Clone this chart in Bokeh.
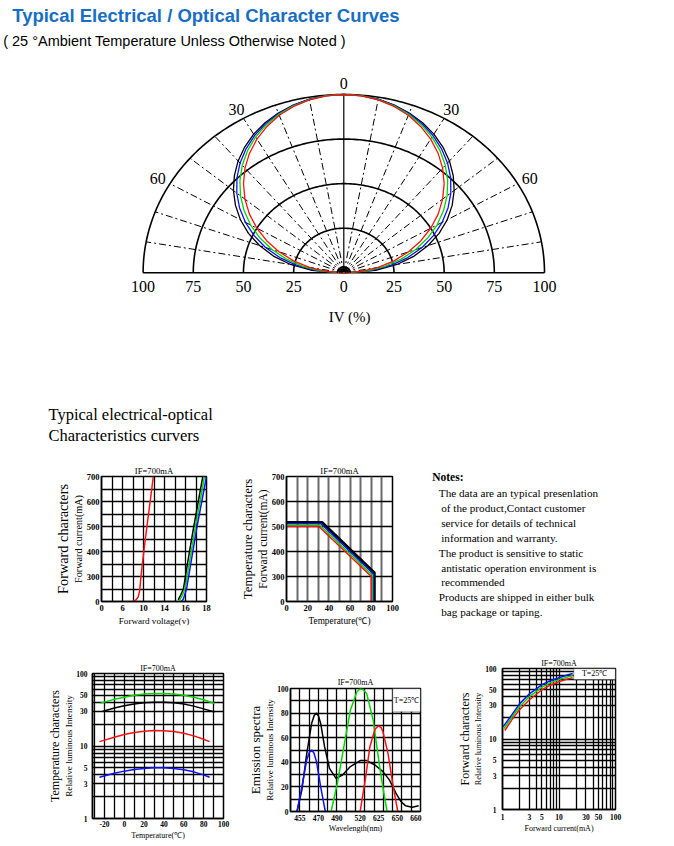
import numpy as np
from bokeh.plotting import figure
from bokeh.models import Range1d, FixedTicker, Label, BoxAnnotation, Title
from bokeh.layouts import column, row
from bokeh.embed import file_html
from bokeh.resources import INLINE

SERIF = "Liberation Serif"
SANS = "Liberation Sans"
RED, GREEN, BLUE, BLACK = "#ff1010", "#00d800", "#1010ff", "#000000"

# ---------------- data ----------------
# Radiation pattern: relative intensity IV (%) vs off-axis angle (deg)
pol_angles = [0, 5, 10, 15, 20, 25, 30, 35, 40, 45, 50, 55, 60, 65, 70, 75, 80, 85, 90]
pol_black = [100, 99.7, 98.9, 97.4, 95.4, 92.9, 89.8, 86.1, 81.9, 77.1, 71.8, 65.9, 59.5, 52.4, 44.7, 36.3, 26.9, 16.0, 0]
pol_blue = [100, 99.7, 98.8, 97.2, 95.0, 92.2, 88.9, 84.9, 80.4, 75.3, 69.6, 63.4, 56.6, 49.3, 41.5, 33.0, 23.8, 13.5, 0]
pol_green = [100, 99.7, 98.6, 96.9, 94.6, 91.5, 87.9, 83.6, 78.7, 73.2, 67.2, 60.6, 53.6, 46.1, 38.1, 29.6, 20.7, 11.1, 0]
pol_red = [100, 99.6, 98.5, 96.6, 94.0, 90.6, 86.6, 81.9, 76.6, 70.7, 64.3, 57.4, 50.0, 42.3, 34.2, 25.9, 17.4, 8.7, 0]
pol_rings = [25, 50, 75, 100]
pol_spokes = [-80, -70, -60, -50, -40, -30, -20, -10, 10, 20, 30, 40, 50, 60, 70, 80]
pol_scale_vals = [-100, -75, -50, -25, 0, 25, 50, 75, 100]
pol_scale_labels = ["100", "75", "50", "25", "0", "25", "50", "75", "100"]
pol_angle_marks = [-60, -30, 0, 30, 60]
pol_angle_labels = ["60", "30", "0", "30", "60"]

# Forward characters: forward voltage (V) vs forward current (mA)
fv_ticks = [0, 6, 10, 14, 16, 18]
fi_ticks = [0, 300, 400, 500, 600, 700]
fv_red_v = [7.9, 8.5, 8.95, 9.25, 9.52, 10.06, 10.65, 11.27, 11.87]
fv_red_i = [0, 15, 50, 120, 300, 400, 500, 600, 700]
fv_black_v = [15.3, 15.55, 15.8, 15.99, 16.38, 16.79, 17.22, 17.65]
fv_black_i = [20, 80, 150, 300, 400, 500, 600, 700]
fv_green_v = [15.4, 15.65, 15.95, 16.15, 16.55, 16.95, 17.38, 17.8]
fv_green_i = [10, 60, 150, 300, 400, 500, 600, 700]
fv_blue_v = [15.6, 15.8, 16.1, 16.3, 16.7, 17.1, 17.55, 18.0]
fv_blue_i = [0, 30, 150, 300, 400, 500, 600, 700]

# Temperature characters: temperature (C) vs forward current (mA)
tc_t_ticks = [0, 20, 40, 60, 80, 100]
tc_i_ticks = [0, 300, 400, 500, 600, 700]
tc_red_t, tc_red_i = [0, 30.5, 80, 80], [500, 500, 300, 0]
tc_green_t, tc_green_i = [0, 31.5, 81, 81], [505, 505, 305, 0]
tc_blue_t, tc_blue_i = [0, 32.5, 82, 82], [511, 511, 310, 0]
tc_black_t, tc_black_i = [0, 33.5, 83, 83], [517, 517, 315, 0]

# Temperature characters: temperature (C) vs relative luminous intensity
rt_t_ticks = [-20, 0, 20, 40, 60, 80, 100]
rt_i_ticks = [1, 3, 5, 10, 30, 50, 100]
rt_green_t = [-24, -10, 0, 10, 20, 30, 40, 50, 60, 70, 80, 91]
rt_green = [39, 44, 47, 50, 52, 53, 53, 52, 50, 47, 43.5, 38.5]
rt_black_t = [-22, -10, 0, 10, 20, 30, 40, 50, 60, 70, 80, 91]
rt_black = [30, 33.5, 36, 38, 39.5, 40, 40, 39.5, 38, 35.5, 32.5, 29.5]
rt_red_t = [-25, -10, 0, 10, 20, 30, 40, 50, 60, 70, 80, 86]
rt_red = [11.5, 13.2, 14.4, 15.4, 16, 16.3, 16.2, 15.8, 15, 13.8, 12.4, 11.5]
rt_blue_t = [-25, -10, 0, 10, 20, 30, 40, 50, 60, 70, 80, 86]
rt_blue = [3.7, 4.2, 4.5, 4.75, 4.9, 5.0, 5.0, 4.9, 4.7, 4.4, 4.0, 3.7]

# Emission spectra: wavelength axis position vs relative intensity
sp_tick_pos = [2, 6, 10, 15, 19, 23, 27]
sp_tick_labels = ["455", "470", "490", "520", "625", "650", "660"]
sp_i_ticks = [0, 20, 40, 60, 80, 100]
sp_blue_x = [1.4, 2.45, 3.5, 4.05, 4.55, 5.05, 5.6, 6.5, 7.5]
sp_blue = [0, 20, 42, 48, 50, 47.5, 40.5, 20, 0]
sp_black_x = [1.4, 2.45, 3.5, 4.55, 5.1, 5.6, 6.05, 6.5, 7.34, 8.4, 9.8, 11.2, 12.9, 15, 16.4, 18.2, 19.9, 21.3, 22.7, 23.8, 24.8, 26.2, 27.6]
sp_black = [0, 17.6, 47, 71.6, 78, 80, 77.5, 71.6, 52.7, 35, 27, 29.7, 36.5, 41.4, 41.4, 37.8, 32.4, 25.7, 14.9, 8.1, 4.6, 3.5, 4.6]
sp_green_x = [8.74, 10.1, 11.5, 12.9, 14.3, 15.0, 15.6, 16.4, 17.8, 19.2, 20.1, 20.8]
sp_green = [0, 23, 52.7, 82.4, 97.3, 99.8, 99.2, 96, 74.3, 36.5, 14.9, 0]
sp_red_x = [15, 16.1, 17.1, 18.2, 18.9, 19.5, 19.9, 21, 22, 23.1]
sp_red = [0, 25.7, 52.7, 66.8, 69.5, 68.5, 64.9, 47.3, 23, 0]

# Forward characters: forward current (mA) vs relative luminous intensity
fr_ticks = [1, 3, 5, 10, 30, 50, 100]
fr_blue_x = [1.03, 1.5, 2, 3, 5, 7, 10, 14, 17.5]
fr_blue = [15, 22.7, 31.5, 43.8, 59, 67, 74, 81, 85]
fr_green_x = [1.06, 1.5, 2, 3, 5, 7, 10, 14, 17.5]
fr_green = [14, 21, 28.7, 40, 54.5, 62.5, 69.5, 76, 79.5]
fr_red_x = [1.1, 1.5, 2, 3, 5, 7, 10, 14, 17.5]
fr_red = [13.2, 19.3, 26, 36, 50, 58, 65, 71, 74]

log_grid = [1, 2, 3, 4, 5, 6, 7, 8, 9, 10, 20, 30, 40, 50, 60, 70, 80, 90, 100]

note_lines = [
    "The data are an typical presenlation",
    "of the product,Contact customer",
    "service for details of technical",
    "information and warranty.",
    "The product is sensitive to static",
    "antistatic operation environment is",
    "recommended",
    "Products are shipped in either bulk",
    "bag package or taping.",
]
note_indent = [0, 1, 1, 1, 0, 1, 1, 0, 1]


# ---------------- helpers ----------------
def dlabel(p, x, y, text, size, font=SERIF, style="normal", align="center",
           baseline="middle", color="black"):
    p.add_layout(Label(x=x, y=y, text=text, text_font_size=f"{size}px", text_font=font,
                       text_font_style=style, text_align=align, text_baseline=baseline,
                       text_color=color))


def make_chart(g, xr, yr, x_log=False, y_log=False):
    p = figure(width=g["w"], height=g["h"], x_range=xr, y_range=yr,
               x_axis_type="log" if x_log else "linear",
               y_axis_type="log" if y_log else "linear",
               output_backend="svg", toolbar_location=None,
               min_border_left=g["bl"], min_border_right=g["w"] - g["bl"] - g["fw"],
               min_border_top=g["bt"], min_border_bottom=g["h"] - g["bt"] - g["fh"])
    p.frame_align = False
    p.background_fill_color = "white"
    p.border_fill_color = "white"
    p.outline_line_color = "black"
    p.outline_line_width = 1.5
    return p


def style_axis(ax, ticks, labels, size, standoff):
    ax.ticker = FixedTicker(ticks=ticks)
    ax.major_label_overrides = {t: l for t, l in zip(ticks, labels)}
    ax.major_tick_line_color = None
    ax.minor_tick_line_color = None
    ax.major_tick_out = 0
    ax.major_tick_in = 0
    ax.minor_tick_out = 0
    ax.minor_tick_in = 0
    ax.axis_line_color = "black"
    ax.axis_line_width = 1.5
    ax.major_label_text_font = SERIF
    ax.major_label_text_font_style = "bold"
    ax.major_label_text_font_size = f"{size}px"
    ax.major_label_text_color = "black"
    ax.major_label_standoff = standoff


def style_grid(grid, ticks, color="black", width=1.3):
    grid.ticker = FixedTicker(ticks=ticks)
    grid.grid_line_color = color
    grid.grid_line_width = width
    grid.minor_grid_line_color = None


def titles(p, top_text, top_size, top_off, top_stand,
           big, big_size, big_off, small, small_size, small_off,
           xlab, xlab_size, xlab_off, xlab_stand):
    p.title.text = top_text
    p.title.align = "center"
    p.title.offset = top_off
    p.title.standoff = top_stand
    p.title.text_font = SERIF
    p.title.text_font_style = "normal"
    p.title.text_font_size = f"{top_size}px"
    p.title.text_color = "black"
    p.add_layout(Title(text=small, align="center", offset=small_off, standoff=0,
                       text_font=SERIF, text_font_style="normal",
                       text_font_size=f"{small_size}px", text_color="black"), "left")
    p.add_layout(Title(text=big, align="center", offset=big_off, standoff=0,
                       text_font=SERIF, text_font_style="normal",
                       text_font_size=f"{big_size}px", text_color="black"), "left")
    p.add_layout(Title(text=xlab, align="center", offset=xlab_off, standoff=xlab_stand,
                       vertical_align="top", text_font=SERIF, text_font_style="normal",
                       text_font_size=f"{xlab_size}px", text_color="black"), "below")


# ---------------- top: headers + polar ----------------
SXC, SYC, KX, KY = 343.3, 272.3, 2.007, 1.783
top = figure(width=674, height=448, x_range=Range1d(-SXC / KX, (674 - SXC) / KX),
             y_range=Range1d((SYC - 448) / KY, SYC / KY), output_backend="svg",
             toolbar_location=None, x_axis_location=None, y_axis_location=None,
             min_border=0)
top.frame_align = False
top.grid.visible = False
top.outline_line_color = None
top.background_fill_color = "white"
top.border_fill_color = "white"


def txy(sx, sy):
    return (sx - SXC) / KX, (SYC - sy) / KY


t = np.linspace(0, np.pi, 181)
for r in pol_rings:
    top.line(r * np.cos(t), r * np.sin(t), color="black", line_width=1.6)
top.line([pol_scale_vals[0], pol_scale_vals[-1]], [0, 0], color="black", line_width=1.5)
sp = np.radians(pol_spokes)
top.segment(x0=0, y0=0, x1=100 * np.sin(sp), y1=100 * np.cos(sp), color="black",
            line_width=1, line_dash="7 3 2 3")
top.line([0, 0], [0, 100], color="black", line_width=1.2)

ang = np.radians(pol_angles)
th = np.concatenate([-ang[::-1], ang[1:]])
for vals, col in [(pol_black, BLACK), (pol_blue, BLUE), (pol_green, GREEN), (pol_red, RED)]:
    rv = np.asarray(vals, float)
    rr = np.concatenate([rv[::-1], rv[1:]])
    top.line(rr * np.sin(th), rr * np.cos(th), color=col, line_width=1.3)
for r in [1.0, 2.0, 3.2]:
    top.line(r * np.cos(t), r * np.sin(t), color="black", line_width=1.6)

for xv, lab in zip(pol_scale_vals, pol_scale_labels):
    dlabel(top, xv, -7.7, lab, 16)
for a, lab in zip(pol_angle_marks, pol_angle_labels):
    ar = np.radians(a)
    dlabel(top, 107 * np.sin(ar), 106 * np.cos(ar), lab, 16)
dlabel(top, *txy(349.3, 316.7), "IV (%)", 15)

dlabel(top, *txy(11.7, 15.2), "Typical Electrical / Optical Character Curves", 18.5,
       font=SANS, style="bold", align="left", color="#176ec6")
dlabel(top, *txy(2.7, 40.2), "( 25 \u00b0Ambient Temperature Unless Otherwise Noted )", 14.5,
       font=SANS, align="left")
dlabel(top, *txy(48, 413.5), "Typical electrical-optical", 16.5, align="left")
dlabel(top, *txy(48, 434.5), "Characteristics curvers", 16.5, align="left")

# ---------------- M1: forward voltage ----------------
g1 = dict(w=226, h=192, bl=101, bt=28, fw=105, fh=125)
m1 = make_chart(g1, Range1d(0, 10), Range1d(0, 10))
grid_pos = list(range(11))
vpos = lambda v: np.interp(v, fv_ticks, grid_pos[::2])
ipos = lambda i: np.interp(i, fi_ticks, grid_pos[::2])
style_axis(m1.xaxis, grid_pos[::2], [str(v) for v in fv_ticks], 8.5, 3)
style_axis(m1.yaxis, grid_pos[::2], [str(v) for v in fi_ticks], 8.5, 2)
style_grid(m1.xgrid, grid_pos)
style_grid(m1.ygrid, grid_pos)
for xs, ys, col in [(fv_red_v, fv_red_i, RED), (fv_black_v, fv_black_i, BLACK),
                    (fv_green_v, fv_green_i, GREEN), (fv_blue_v, fv_blue_i, BLUE)]:
    m1.line(vpos(xs), ipos(ys), color=col, line_width=1.5)
titles(m1, "IF=700mA", 8.6, 7, 2, "Forward characters", 14.3, -2, "Forward current(mA)",
       10.2, -4, "Forward voltage(v)", 9.1, -1.5, 4)

# ---------------- M2: temperature vs current ----------------
g2 = dict(w=194, h=192, bl=60, bt=28, fw=106, fh=125)
m2 = make_chart(g2, Range1d(0, 100), Range1d(0, 5))
cpos = lambda i: np.interp(i, tc_i_ticks, [0, 1, 2, 3, 4, 5])
style_axis(m2.xaxis, tc_t_ticks, [str(v) for v in tc_t_ticks], 8.5, 3)
style_axis(m2.yaxis, [0, 1, 2, 3, 4, 5], [str(v) for v in tc_i_ticks], 8.5, 2)
style_grid(m2.xgrid, list(range(0, 101, 10)), color="#6a6a6a", width=2)
style_grid(m2.ygrid, [0, 1, 2, 3, 4, 5])
for xs, ys, col, lw in [(tc_black_t, tc_black_i, BLACK, 2.6), (tc_blue_t, tc_blue_i, BLUE, 1.5),
                        (tc_green_t, tc_green_i, GREEN, 1.5), (tc_red_t, tc_red_i, RED, 1.5)]:
    m2.line(xs, cpos(ys), color=col, line_width=lw)
titles(m2, "IF=700mA", 8.6, 3, 2, "Temperature characters", 12.9, -0.5, "Forward current(mA)",
       11.5, -6, "Temperature(\u2103)", 9.3, -2, 4)

# ---------------- Notes ----------------
notes = figure(width=254, height=192, x_range=Range1d(0, 254), y_range=Range1d(192, 0),
               output_backend="svg", toolbar_location=None, x_axis_location=None,
               y_axis_location=None, min_border=0)
notes.frame_align = False
notes.grid.visible = False
notes.outline_line_color = None
dlabel(notes, 431.7 - 420, 476 - 448, "Notes:", 11.5, style="bold", align="left")
for i, (line, ind) in enumerate(zip(note_lines, note_indent)):
    dlabel(notes, 438.3 + 2.4 * ind - 420, 492.7 + 14.87 * i - 448, line, 11.2, align="left")

# ---------------- B1: temperature vs relative intensity ----------------
gb1 = dict(w=245, h=205, bl=92, bt=33, fw=131, fh=145)
b1 = make_chart(gb1, Range1d(-32, 100), Range1d(1, 100), y_log=True)
style_axis(b1.xaxis, rt_t_ticks, [str(v) for v in rt_t_ticks], 7.5, 2)
style_axis(b1.yaxis, rt_i_ticks, [str(v) for v in rt_i_ticks], 7.5, 5)
style_grid(b1.xgrid, list(range(-30, 101, 10)))
style_grid(b1.ygrid, log_grid)
for xs, ys, col in [(rt_green_t, rt_green, GREEN), (rt_black_t, rt_black, BLACK),
                    (rt_red_t, rt_red, RED), (rt_blue_t, rt_blue, BLUE)]:
    b1.line(xs, ys, color=col, line_width=1.5)
titles(b1, "IF=700mA", 8, 0, 1, "Temperature characters", 12, 12.3,
       "Relative luminous Intensity", 9.2, 14.6, "Temperature(\u2103)", 8, -7.5, 2)

# ---------------- B2: emission spectra ----------------
gb2 = dict(w=210, h=205, bl=42, bt=48, fw=133, fh=123)
b2 = make_chart(gb2, Range1d(0, 28), Range1d(0, 100))
style_axis(b2.xaxis, sp_tick_pos, sp_tick_labels, 7.5, 3)
style_axis(b2.yaxis, sp_i_ticks, [str(v) for v in sp_i_ticks], 7.5, 2)
style_grid(b2.xgrid, list(range(0, 29, 2)))
style_grid(b2.ygrid, list(range(0, 101, 10)))
b2.add_layout(BoxAnnotation(left=22, right=28, bottom=81, top=100, fill_color="white",
                            fill_alpha=1, line_color="black", line_width=1.3))
for xs, ys, col in [(sp_black_x, sp_black, BLACK), (sp_blue_x, sp_blue, BLUE),
                    (sp_green_x, sp_green, GREEN), (sp_red_x, sp_red, RED)]:
    b2.line(xs, ys, color=col, line_width=1.5)
dlabel(b2, 25, 90.5, "T=25\u2103", 8)
titles(b2, "IF=700mA", 8, -9, 4, "Emission spectra", 13, -7.3,
       "Relative luminous Intensity", 9.2, 12.7, "Wavelength(nm)", 8, -4.3, 1)

# ---------------- B3: forward current vs relative intensity ----------------
gb3 = dict(w=219, h=205, bl=42, bt=28, fw=118, fh=141)
b3 = make_chart(gb3, Range1d(1, 100), Range1d(1, 100), x_log=True, y_log=True)
style_axis(b3.xaxis, fr_ticks, [str(v) for v in fr_ticks], 7.5, 4)
style_axis(b3.yaxis, fr_ticks, [str(v) for v in fr_ticks], 7.5, 6)
style_grid(b3.xgrid, log_grid)
style_grid(b3.ygrid, log_grid)
b3.add_layout(BoxAnnotation(left=18.2, right=100, bottom=69.6, top=100, fill_color="white",
                            fill_alpha=1, line_color="black", line_width=1.3))
for xs, ys, col in [(fr_red_x, fr_red, RED), (fr_green_x, fr_green, GREEN),
                    (fr_blue_x, fr_blue, BLUE)]:
    b3.line(xs, ys, color=col, line_width=1.5)
dlabel(b3, 42.7, 84.9, "T=25\u2103", 8)
titles(b3, "IF=700mA", 8, 4, 1.5, "Forward characters", 12.1, 2.1,
       "Relative luminous Intensity", 8.4, 12.1, "Forward current(mA)", 8, 7.5, 3)

layout = column(top, row(m1, m2, notes), row(b1, b2, b3))
open("out.html", "w").write(file_html(layout, INLINE, title="Typical Electrical / Optical Character Curves"))
